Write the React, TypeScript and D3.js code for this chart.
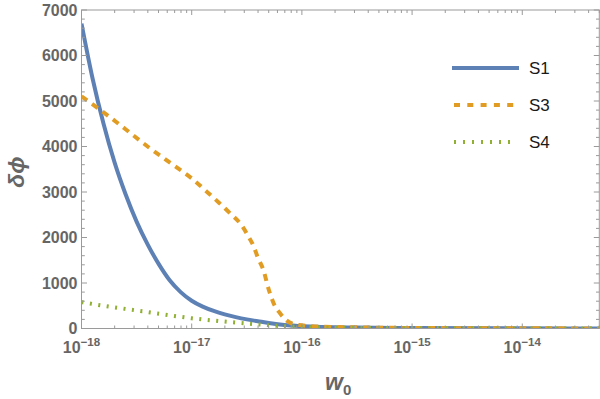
import React from "react";
import * as d3 from "d3";

// log10(w0) sample positions and δφ values for each series
const s1LogW = [-18, -17.9, -17.8, -17.7, -17.6, -17.5, -17.4, -17.3, -17.2, -17.1, -17.0, -16.9, -16.8, -16.7, -16.6, -16.5, -16.4, -16.3, -16.2, -16.1, -16.0, -15.5, -15.0, -14.0, -13.3];
const s1Values = [6700, 5500, 4500, 3650, 2950, 2350, 1850, 1420, 1060, 800, 610, 480, 385, 310, 250, 200, 160, 120, 90, 68, 50, 20, 10, 3, 1];

const s3LogW = [-18, -17.8, -17.6, -17.4, -17.2, -17.0, -16.85, -16.75, -16.65, -16.55, -16.48, -16.44, -16.4, -16.35, -16.3, -16.25, -16.2, -16.15, -16.08, -16.0, -15.8, -15.5, -15.0, -14.0, -13.3];
const s3Values = [5100, 4750, 4380, 4000, 3650, 3300, 2980, 2760, 2530, 2280, 2000, 1820, 1560, 1290, 850, 520, 340, 200, 100, 70, 40, 25, 12, 4, 2];

const s4LogW = [-18, -17.8, -17.6, -17.4, -17.2, -17.0, -16.8, -16.6, -16.4, -16.2, -16.0, -15.8, -15.5, -15.0, -14.0, -13.3];
const s4Values = [580, 500, 430, 360, 290, 225, 175, 130, 90, 55, 35, 20, 12, 6, 2, 1];

const seriesNames = ["S1", "S3", "S4"];
const seriesColors = ["#5E81B5", "#E19C24", "#8FB032"];
const seriesDash = ["none", "7,6", "2,6.5"];

const xMajorExps = [-18, -17, -16, -15, -14];
const yTicks = [0, 1000, 2000, 3000, 4000, 5000, 6000, 7000];

const W = 600;
const H = 399;
const left = 81.5;
const right = 599.3;
const top = 10;
const bottom = 328.5;

export default function App() {
  const x = d3.scaleLog().domain([1e-18, 5e-14]).range([left, right]);
  const y = d3.scaleLinear().domain([0, 7000]).range([bottom, top]);

  const series = [
    s1LogW.map((e, i) => [Math.pow(10, e), s1Values[i]] as [number, number]),
    s3LogW.map((e, i) => [Math.pow(10, e), s3Values[i]] as [number, number]),
    s4LogW.map((e, i) => [Math.pow(10, e), s4Values[i]] as [number, number]),
  ];

  const line = d3
    .line<[number, number]>()
    .x((d) => x(d[0]))
    .y((d) => y(d[1]))
    .curve(d3.curveMonotoneX);

  const frameColor = "#9a9a9a";
  const labelColor = "#666666";

  const xTicks: { v: number; major: boolean }[] = [];
  for (let d = -18; d <= -14; d++) {
    for (let k = 1; k <= 9; k++) {
      const v = k * Math.pow(10, d);
      if (v <= 5e-14 * 1.0001) xTicks.push({ v, major: k === 1 });
    }
  }
  const yMinor = d3.range(0, 7001, 200);

  return (
    <svg
      width={W}
      height={H}
      style={{ position: "absolute", left: 0, top: 0 }}
      fontFamily="'Liberation Sans', Arial, sans-serif"
    >
      <rect x={0} y={0} width={W} height={H} fill="#ffffff" />
      <defs>
        <clipPath id="plotClip">
          <rect x={left} y={top} width={right - left} height={bottom - top} />
        </clipPath>
      </defs>

      {/* curves */}
      <g clipPath="url(#plotClip)">
        {series.map((s, i) => (
          <path
            key={i}
            d={line(s) || ""}
            fill="none"
            stroke={seriesColors[i]}
            strokeWidth={4}
            strokeDasharray={seriesDash[i]}
          />
        ))}
      </g>

      {/* frame */}
      <rect
        x={left}
        y={top}
        width={right - left}
        height={bottom - top}
        fill="none"
        stroke={frameColor}
        strokeWidth={1}
      />

      {/* x ticks bottom & top */}
      {xTicks.map((t, i) => {
        const px = x(t.v);
        const len = t.major ? 5 : 3;
        return (
          <g key={"xt" + i} stroke={frameColor} strokeWidth={1}>
            <line x1={px} x2={px} y1={bottom} y2={bottom - len} />
            <line x1={px} x2={px} y1={top} y2={top + len} />
          </g>
        );
      })}

      {/* y ticks left & right */}
      {yMinor.map((v, i) => {
        const py = y(v);
        const major = v % 1000 === 0;
        const len = major ? 5.5 : 3.3;
        return (
          <g key={"yt" + i} stroke={frameColor} strokeWidth={1}>
            <line x1={left} x2={left + len} y1={py} y2={py} />
            <line x1={right} x2={right - len} y1={py} y2={py} />
          </g>
        );
      })}

      {/* y tick labels */}
      {yTicks.map((v) => (
        <text
          key={"yl" + v}
          x={77.5}
          y={y(v)}
          dy="0.36em"
          textAnchor="end"
          fontSize={16}
          fontWeight="bold"
          fill={labelColor}
        >
          {v}
        </text>
      ))}

      {/* x tick labels */}
      {xMajorExps.map((e) => (
        <text
          key={"xl" + e}
          x={x(Math.pow(10, e))}
          y={353}
          textAnchor="middle"
          fontSize={16}
          fontWeight="bold"
          fill={labelColor}
        >
          <tspan>10</tspan>
          <tspan dy={-7} fontSize={11.5}>
            {"\u2212" + Math.abs(e)}
          </tspan>
        </text>
      ))}

      {/* axis titles */}
      <text x={325} y={390} fontSize={23} fontWeight="bold" fontStyle="italic" fill={labelColor}>
        <tspan>w</tspan>
        <tspan dy={5} fontSize={15} fontStyle="normal">
          0
        </tspan>
      </text>
      <text
        transform="translate(24,172) rotate(-90)"
        textAnchor="middle"
        fontSize={23}
        fontWeight="bold"
        fontStyle="italic"
        fill={labelColor}
      >
        {"δ\u03D5"}
      </text>

      {/* legend */}
      {seriesNames.map((name, i) => {
        const ly = 68 + i * 37;
        return (
          <g key={"lg" + name}>
            <line
              x1={i === 0 ? 452 : 454}
              x2={i === 0 ? 519 : 517}
              y1={ly}
              y2={ly}
              stroke={seriesColors[i]}
              strokeWidth={4}
              strokeDasharray={seriesDash[i] === "none" ? undefined : i === 1 ? "6,7.3" : "2,7"}
            />
            <text x={529} y={ly} dy="0.36em" fontSize={17} fill="#1a1a1a">
              {name}
            </text>
          </g>
        );
      })}
    </svg>
  );
}
